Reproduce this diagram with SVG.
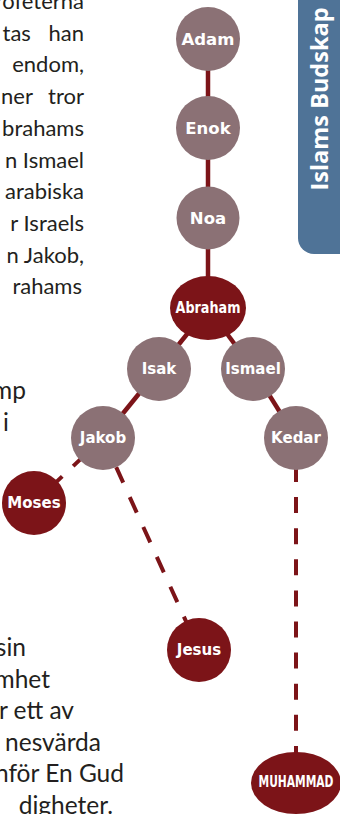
<svg xmlns="http://www.w3.org/2000/svg" width="340" height="814" viewBox="0 0 340 814">
<style>
.body{font-family:Lato,"Open Sans",sans-serif;font-size:22px;fill:#231f20;text-anchor:end;}
.big{font-size:24.5px;}
.lbl{font-family:"DejaVu Sans",sans-serif;font-weight:bold;font-size:15px;fill:#ffffff;text-anchor:middle;}
.top{font-size:16.5px;}
.g{fill:#8b7175;}
.r{fill:#7c1418;}
.c{stroke:#7c1418;stroke-width:4.5;fill:none;}
.d{stroke:#7c1418;stroke-width:4;fill:none;}
</style>
<rect width="340" height="814" fill="#ffffff"/>
<g id="text-left">
<text class="body" x="84" y="9">rofeterna</text>
<text class="body" x="84" y="40.7" word-spacing="12">tas han</text>
<text class="body" x="84" y="72.4">endom,</text>
<text class="body" x="84" y="104" word-spacing="10">ner tror</text>
<text class="body" x="84" y="135.8">brahams</text>
<text class="body" x="84" y="167.5">n Ismael</text>
<text class="body" x="84" y="199">arabiska</text>
<text class="body" x="84" y="231">r Israels</text>
<text class="body" x="84" y="262.6">n Jakob,</text>
<text class="body" x="82" y="294.3">rahams</text>
<text class="body big" x="26" y="399">mp</text>
<text class="body big" x="9" y="431">i</text>
<text class="body big" x="26" y="656">sin</text>
<text class="body big" x="50" y="687.5">mhet</text>
<text class="body big" x="74" y="719">r ett av</text>
<text class="body big" x="101" y="750.5">nesvärda</text>
<text class="body big" x="124" y="782">nför En Gud</text>
<text class="body big" x="113" y="813.5">digheter.</text>
</g>
<g id="banner">
<rect x="298" y="-20" width="70" height="274" rx="16" fill="#4f7397"/>
<text x="328" y="99" transform="rotate(-90 328 99)" text-anchor="middle" font-family="'Open Sans','Noto Sans',sans-serif" font-weight="bold" font-size="23.5" fill="#ffffff">Islams Budskap</text>
</g>
<g id="connectors">
<line class="c" x1="208" y1="39" x2="208" y2="128"/>
<line class="c" x1="208" y1="128" x2="208" y2="218"/>
<line class="c" x1="208" y1="218" x2="208" y2="308"/>
<line class="c" x1="208" y1="308" x2="159" y2="369"/>
<line class="c" x1="208" y1="308" x2="253" y2="369"/>
<line class="c" x1="159" y1="369" x2="103" y2="438"/>
<line class="c" x1="253" y1="369" x2="296" y2="438"/>
<line class="d" x1="103" y1="438" x2="34" y2="503" stroke-dasharray="16 15" stroke-dashoffset="6"/>
<line class="d" x1="116.2" y1="467.2" x2="199" y2="650" stroke-dasharray="17 15.8"/>
<line class="d" x1="296" y1="466" x2="296" y2="760" stroke-dasharray="16 15.1"/>
</g>
<g id="node-adam"><circle class="g" cx="208" cy="39" r="32"/><text class="lbl top" x="208" y="45">Adam</text></g>
<g id="node-enok"><circle class="g" cx="208" cy="128" r="32"/><text class="lbl top" x="208" y="134">Enok</text></g>
<g id="node-noa"><circle class="g" cx="208" cy="218" r="31.5"/><text class="lbl top" x="208" y="224">Noa</text></g>
<g id="node-abraham"><ellipse class="r" cx="208" cy="308" rx="38" ry="32"/><text class="lbl" x="208" y="313.2" font-size="14.5" textLength="65" lengthAdjust="spacingAndGlyphs">Abraham</text></g>
<g id="node-isak"><circle class="g" cx="159" cy="369" r="32"/><text class="lbl" x="159" y="374.4">Isak</text></g>
<g id="node-ismael"><circle class="g" cx="253" cy="369" r="32"/><text class="lbl" x="253" y="374.4">Ismael</text></g>
<g id="node-jakob"><circle class="g" cx="103" cy="438" r="32"/><text class="lbl" x="103" y="443.4">Jakob</text></g>
<g id="node-kedar"><circle class="g" cx="296" cy="438" r="32"/><text class="lbl" x="296" y="443.4">Kedar</text></g>
<g id="node-moses"><circle class="r" cx="34" cy="503" r="32"/><text class="lbl" x="34" y="508.4">Moses</text></g>
<g id="node-jesus"><circle class="r" cx="199" cy="650" r="32"/><text class="lbl" x="199" y="655.4">Jesus</text></g>
<g id="node-muhammad"><ellipse class="r" cx="296" cy="783" rx="45" ry="31"/><text class="lbl" x="296" y="787.3" font-size="12" textLength="75" lengthAdjust="spacingAndGlyphs">MUHAMMAD</text></g>
</svg>
